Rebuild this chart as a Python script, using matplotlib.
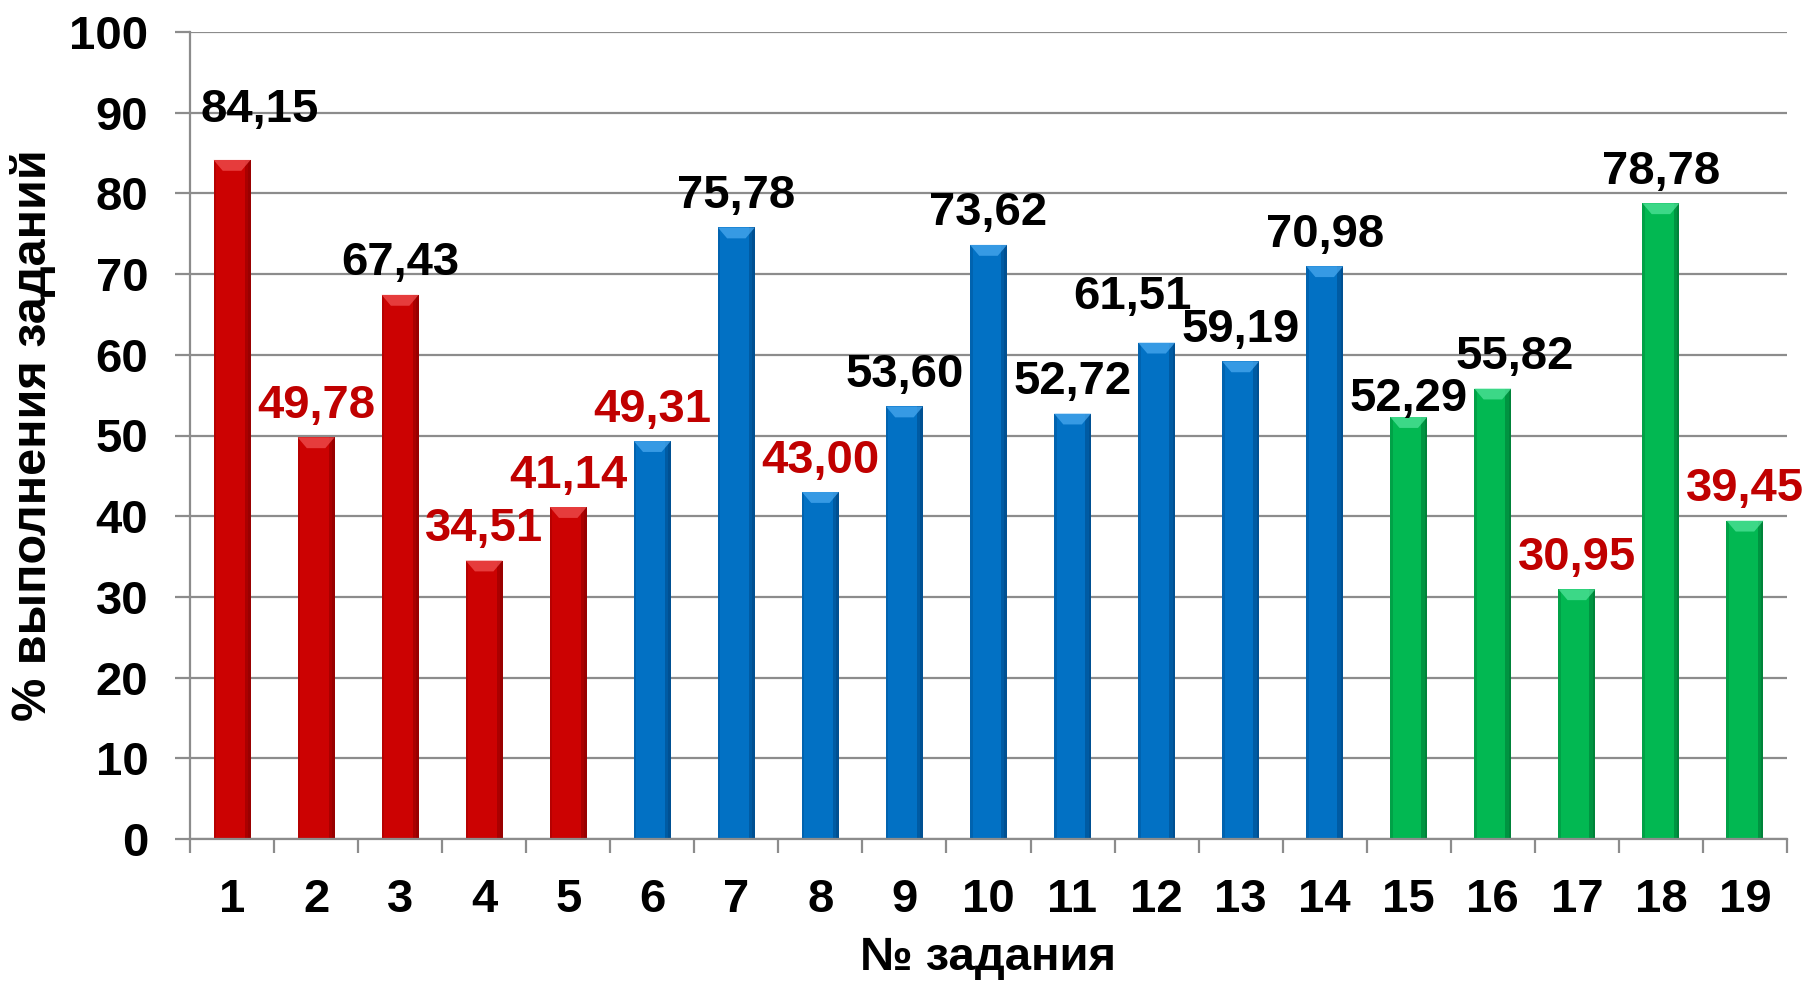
import matplotlib.pyplot as plt
from matplotlib.patches import Polygon
from matplotlib.ticker import MultipleLocator

plt.rcParams['font.family'] = ['Liberation Sans', 'DejaVu Sans']
plt.rcParams['font.weight'] = 'bold'

tasks = [str(i) for i in range(1, 20)]
values = [84.15, 49.78, 67.43, 34.51, 41.14, 49.31, 75.78, 43.00, 53.60, 73.62,
          52.72, 61.51, 59.19, 70.98, 52.29, 55.82, 30.95, 78.78, 39.45]
groups = ['red'] * 5 + ['blue'] * 9 + ['green'] * 5

# main / dark edge / light bevel
palette = {
    'red': ('#CC0202', '#8E0000', '#F05050'),
    'blue': ('#0271C4', '#004A88', '#48A8F0'),
    'green': ('#02B852', '#007834', '#50E49A'),
}
grid_c = '#8C8C8C'
low_c = '#C00000'

# label nudges (points) for labels moved by hand in the original
nudge = {0: (20, 27), 11: (-17, 24), 14: (0, 4), 15: (16, 14)}

fig = plt.figure(figsize=(18.06, 9.81), dpi=100)
L, R = 190 / 1806, 1787 / 1806
B, T = 1 - 839 / 981, 1 - 32 / 981
ax = fig.add_axes([L, B, R - L, T - B])

x = list(range(1, len(values) + 1))
w = 0.44
for xi, v, g in zip(x, values, groups):
    main, dark, light = palette[g]
    ax.bar(xi, v, width=w, color=main, zorder=3)
    # darker right and left edges
    ax.bar(xi + w / 2 - 0.035, v, width=0.07, color=dark, alpha=0.55, zorder=3.1, linewidth=0)
    ax.bar(xi + w / 2 - 0.015, v, width=0.03, color=dark, alpha=0.6, zorder=3.2, linewidth=0)
    ax.bar(xi - w / 2 + 0.015, v, width=0.03, color=dark, alpha=0.35, zorder=3.1, linewidth=0)
    # light bevel on top
    h = 1.35
    ax.add_patch(Polygon([(xi - w / 2, v), (xi + w / 2, v),
                          (xi + w / 2 - 0.11, v - h), (xi - w / 2 + 0.11, v - h)],
                         closed=True, color=light, alpha=0.75, zorder=3.3, linewidth=0))

for i, (xi, v) in enumerate(zip(x, values)):
    dx, dy = nudge.get(i, (0, 14))
    ax.annotate(f"{v:.2f}".replace('.', ','), (xi, v), xytext=(dx, dy),
                textcoords='offset points', ha='center', va='baseline',
                fontsize=34, fontweight='bold',
                color=low_c if v < 50 else 'black', zorder=5)

ax.set_xlim(0.5, len(values) + 0.5)
ax.set_ylim(0, 100)
ax.yaxis.set_major_locator(MultipleLocator(10))
ax.set_xticks(x)
ax.set_xticklabels(tasks)
ax.set_xticks([i + 0.5 for i in range(len(values) + 1)], minor=True)

ax.grid(axis='y', color=grid_c, linewidth=1.6, zorder=0)
for s in ['top', 'right']:
    ax.spines[s].set_visible(False)
for s in ['left', 'bottom']:
    ax.spines[s].set_color(grid_c)
    ax.spines[s].set_linewidth(1.6)
    ax.spines[s].set_zorder(4)

ax.tick_params(axis='y', which='major', length=11, width=1.6, color=grid_c,
               pad=19, labelsize=34)
ax.tick_params(axis='x', which='major', length=0, pad=28, labelsize=34)
ax.tick_params(axis='x', which='minor', length=10, width=1.6, color=grid_c)
for lab in ax.get_xticklabels() + ax.get_yticklabels():
    lab.set_fontweight('bold')

fig.text((L + R) / 2, 1 - 958 / 981, '№ задания', ha='center', va='center',
         fontsize=34, fontweight='bold')
fig.text(33 / 1806, (B + T) / 2, '% выполнения заданий', ha='center', va='center',
         rotation=90, fontsize=35, fontweight='bold')

fig.savefig('out.png', dpi=100)
